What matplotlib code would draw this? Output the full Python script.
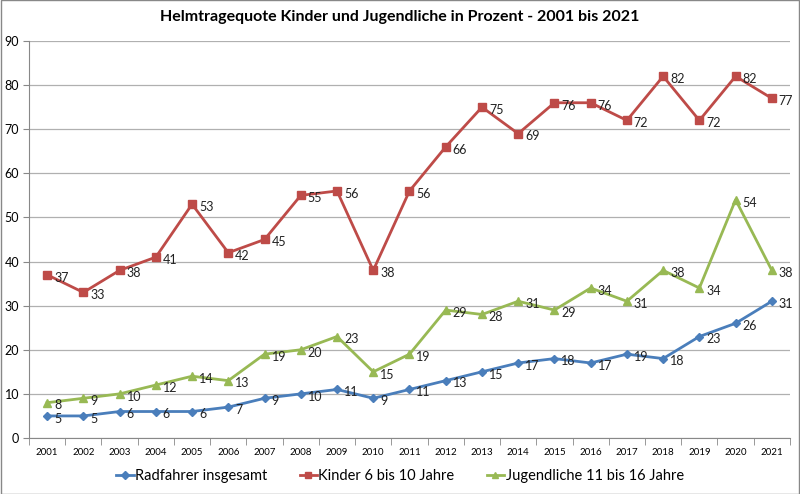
import matplotlib.pyplot as plt
import matplotlib.patches as mpatches

years = [str(y) for y in range(2001, 2022)]
radfahrer = [5, 5, 6, 6, 6, 7, 9, 10, 11, 9, 11, 13, 15, 17, 18, 17, 19, 18, 23, 26, 31]
kinder = [37, 33, 38, 41, 53, 42, 45, 55, 56, 38, 56, 66, 75, 69, 76, 76, 72, 82, 72, 82, 77]
jugend = [8, 9, 10, 12, 14, 13, 19, 20, 23, 15, 19, 29, 28, 31, 29, 34, 31, 38, 34, 54, 38]

series = [
    ("Radfahrer insgesamt", radfahrer, "#4A7EBB", "D", 4.5),
    ("Kinder 6 bis 10 Jahre", kinder, "#BE4B48", "s", 5.5),
    ("Jugendliche 11 bis 16 Jahre", jugend, "#98B954", "^", 6),
]

plt.rcParams['font.family'] = ['Lato', 'DejaVu Sans']

fig = plt.figure(figsize=(8, 4.94), dpi=100)
ax = fig.add_axes([0.03625, 0.1134, 0.9512, 0.8036])

x = list(range(len(years)))
for name, vals, col, mk, ms in series:
    ax.plot(x, vals, color=col, marker=mk, markersize=ms, linewidth=2, label=name)
    for xi, v in zip(x, vals):
        ax.annotate(str(v), (xi, v), xytext=(5, -2), textcoords='offset points',
                    ha='left', va='center', fontsize=9, color='#222222')

ax.set_xlim(-0.5, len(years) - 0.5)
ax.set_ylim(0, 90)
ax.set_yticks(range(0, 91, 10))
ax.set_xticks(x)
ax.set_xticklabels(years, fontsize=7)
ax.set_xticks([i - 0.5 for i in range(len(years) + 1)], minor=True)
ax.tick_params(axis='x', which='major', length=0, pad=7)
ax.tick_params(axis='x', which='minor', length=5, color='#888888')
ax.tick_params(axis='y', length=4, color='#888888', labelsize=9, pad=3)
ax.grid(axis='y', color='#b0b0b0', linewidth=0.9)
ax.set_axisbelow(True)
for s in ['top', 'right']:
    ax.spines[s].set_visible(False)
ax.spines['left'].set_color('#888888')
ax.spines['bottom'].set_color('#888888')

fig.text(0.5, 0.965, "Helmtragequote Kinder und Jugendliche in Prozent - 2001 bis 2021",
         ha='center', va='center', fontsize=11.5, fontweight='bold')

fig.legend(loc='center', bbox_to_anchor=(0.5, 0.036), ncol=3, frameon=False,
           fontsize=10.5, handlelength=1.2, handletextpad=0.1, columnspacing=2.2,
           markerscale=0.8)

fig.patches.append(mpatches.Rectangle((0.001, 0.001), 0.998, 0.998, transform=fig.transFigure,
                                      fill=False, edgecolor='#888888', linewidth=1))

fig.savefig("out.png", dpi=100)
